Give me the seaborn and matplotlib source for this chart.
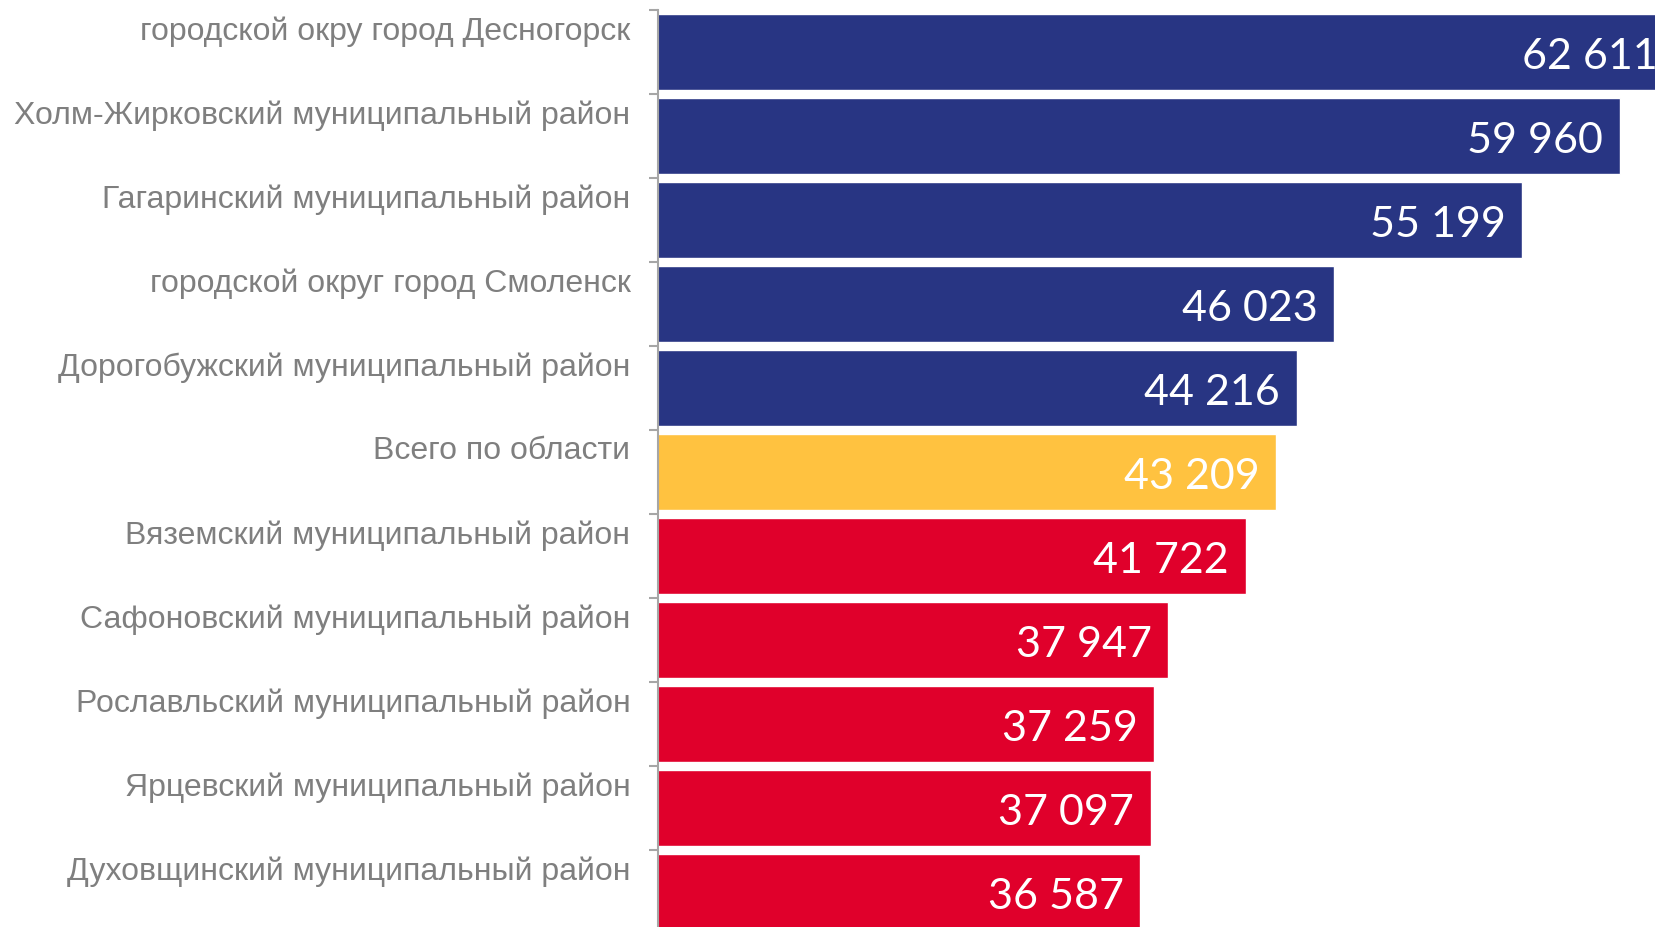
import matplotlib
matplotlib.use("Agg")
import matplotlib.pyplot as plt
import seaborn as sns
import pandas as pd

categories = [
    "городской окру город Десногорск",
    "Холм-Жирковский муниципальный район",
    "Гагаринский муниципальный район",
    "городской округ город Смоленск",
    "Дорогобужский муниципальный район",
    "Всего по области",
    "Вяземский муниципальный район",
    "Сафоновский муниципальный район",
    "Рославльский муниципальный район",
    "Ярцевский муниципальный район",
    "Духовщинский муниципальный район",
]
values = [62611, 59960, 55199, 46023, 44216, 43209, 41722, 37947, 37259, 37097, 36587]
bar_colors = ["#283583"] * 5 + ["#FFC240"] + ["#E0002B"] * 5

sns.set_theme(style="white")
plt.rcParams["font.family"] = ["Liberation Sans", "DejaVu Sans"]

df = pd.DataFrame({"cat": categories, "val": values})

fig = plt.figure(figsize=(16.55, 9.27), dpi=100)
ax = fig.add_axes([657.5 / 1655, -0.00787, 1 - 657.5 / 1655, 0.99676])

sns.barplot(data=df, x="val", y="cat", hue="cat", palette=bar_colors,
            legend=False, width=0.9, saturation=1, orient="h", ax=ax)

n = len(categories)
ax.set_xlim(13050, 61670)
ax.set_ylim(n - 0.5, -0.5)

for s in ["top", "right", "bottom"]:
    ax.spines[s].set_visible(False)
ax.spines["left"].set_color("#A6A6A6")
ax.spines["left"].set_linewidth(1.5)
ax.set_xticks([])
ax.set_yticks([i - 0.5 for i in range(n + 1)])
ax.set_yticklabels([])
ax.tick_params(axis="y", length=6.5, width=1.5, color="#A6A6A6", left=True)
ax.set_xlabel("")
ax.set_ylabel("")

for i, (c, v) in enumerate(zip(categories, values)):
    ax.annotate(c, xy=(0, i - 0.25), xycoords=("axes fraction", "data"),
                xytext=(-19.5, 0), textcoords="offset points",
                ha="right", va="center", fontsize=23, color="#7F7F7F",
                annotation_clip=False)
    ax.annotate(f"{v:,}".replace(",", " "), xy=(v, i), xycoords="data",
                xytext=(-12, -3.5), textcoords="offset points",
                ha="right", va="center", fontsize=31, color="white",
                family=["Lato", "DejaVu Sans"], annotation_clip=False)

fig.savefig("out.png", dpi=100)
